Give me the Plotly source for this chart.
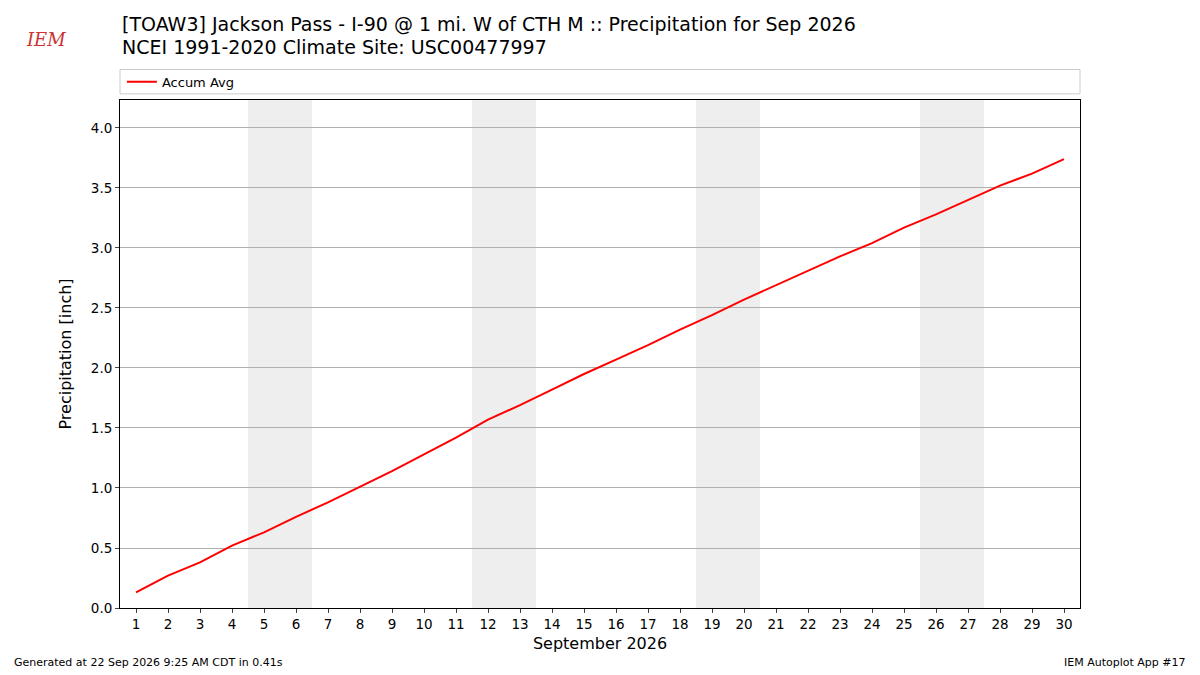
import datetime
import plotly.graph_objects as go

days = list(range(1, 31))
accum_avg = [0.13, 0.27, 0.38, 0.52, 0.63, 0.76, 0.88, 1.01, 1.14, 1.28,
             1.42, 1.57, 1.69, 1.82, 1.95, 2.07, 2.19, 2.32, 2.44, 2.57,
             2.69, 2.81, 2.93, 3.04, 3.17, 3.28, 3.40, 3.52, 3.62, 3.74]
y_ticks = [0.0, 0.5, 1.0, 1.5, 2.0, 2.5, 3.0, 3.5, 4.0]

fig = go.Figure()
fig.add_trace(go.Scatter(x=days, y=accum_avg, mode="lines", name="Accum Avg",
                         line=dict(color="red", width=2)))

# weekend shading
for d in days:
    if datetime.date(2026, 9, d).weekday() == 5:
        fig.add_shape(type="rect", xref="x", yref="paper", x0=d - 0.5, x1=d + 1.5,
                      y0=0, y1=1, fillcolor="#eeeeee", line_width=0, layer="below")

# legend frame
fig.add_shape(type="rect", xref="paper", yref="paper", x0=0, x1=1, y0=1.012, y1=1.06,
              line=dict(color="#cccccc", width=1))

fig.update_layout(
    width=1200, height=675,
    margin=dict(l=120, r=120, t=100, b=67),
    paper_bgcolor="white", plot_bgcolor="white",
    font=dict(family="DejaVu Sans", size=13.5, color="black"),
    legend=dict(x=0.002, y=1.036, xanchor="left", yanchor="middle", orientation="h",
                bgcolor="rgba(0,0,0,0)", font=dict(size=13)),
    showlegend=True,
)
fig.update_xaxes(range=[0.5, 30.5], tickvals=days, ticks="outside", ticklen=4,
                 showgrid=False, showline=True, linecolor="black", mirror=True,
                 title=dict(text="September 2026", font=dict(size=16), standoff=6))
fig.update_yaxes(range=[0, 4.233], tickvals=y_ticks, tickformat=".1f", ticks="outside",
                 ticklen=4, showgrid=True, gridcolor="#b0b0b0", showline=True,
                 linecolor="black", mirror=True, zeroline=False,
                 title=dict(text="Precipitation [inch]", font=dict(size=16)))

fig.add_annotation(text="[TOAW3] Jackson Pass - I-90 @ 1 mi. W of CTH M :: Precipitation for Sep 2026",
                   xref="paper", yref="paper", x=0, y=1.1496, xanchor="left", yanchor="middle",
                   showarrow=False, font=dict(size=19))
fig.add_annotation(text="NCEI 1991-2020 Climate Site: USC00477997",
                   xref="paper", yref="paper", x=0, y=1.104, xanchor="left", yanchor="middle",
                   showarrow=False, font=dict(size=19))
fig.add_annotation(text="Generated at 22 Sep 2026 9:25 AM CDT in 0.41s", xref="paper", yref="paper",
                   x=-0.1125, y=-0.124, xanchor="left", yanchor="bottom", showarrow=False,
                   font=dict(size=11))
fig.add_annotation(text="IEM Autoplot App #17", xref="paper", yref="paper",
                   x=1.1125, y=-0.124, xanchor="right", yanchor="bottom", showarrow=False,
                   font=dict(size=11))
fig.add_annotation(text="<i>IEM</i>", xref="paper", yref="paper", x=-0.1, y=1.12,
                   xanchor="left", yanchor="middle", showarrow=False,
                   font=dict(size=18, color="#cc3333", family="DejaVu Serif"))

fig.write_html("out.html", config={"displayModeBar": False},
               post_script="document.body.style.margin='0';")
